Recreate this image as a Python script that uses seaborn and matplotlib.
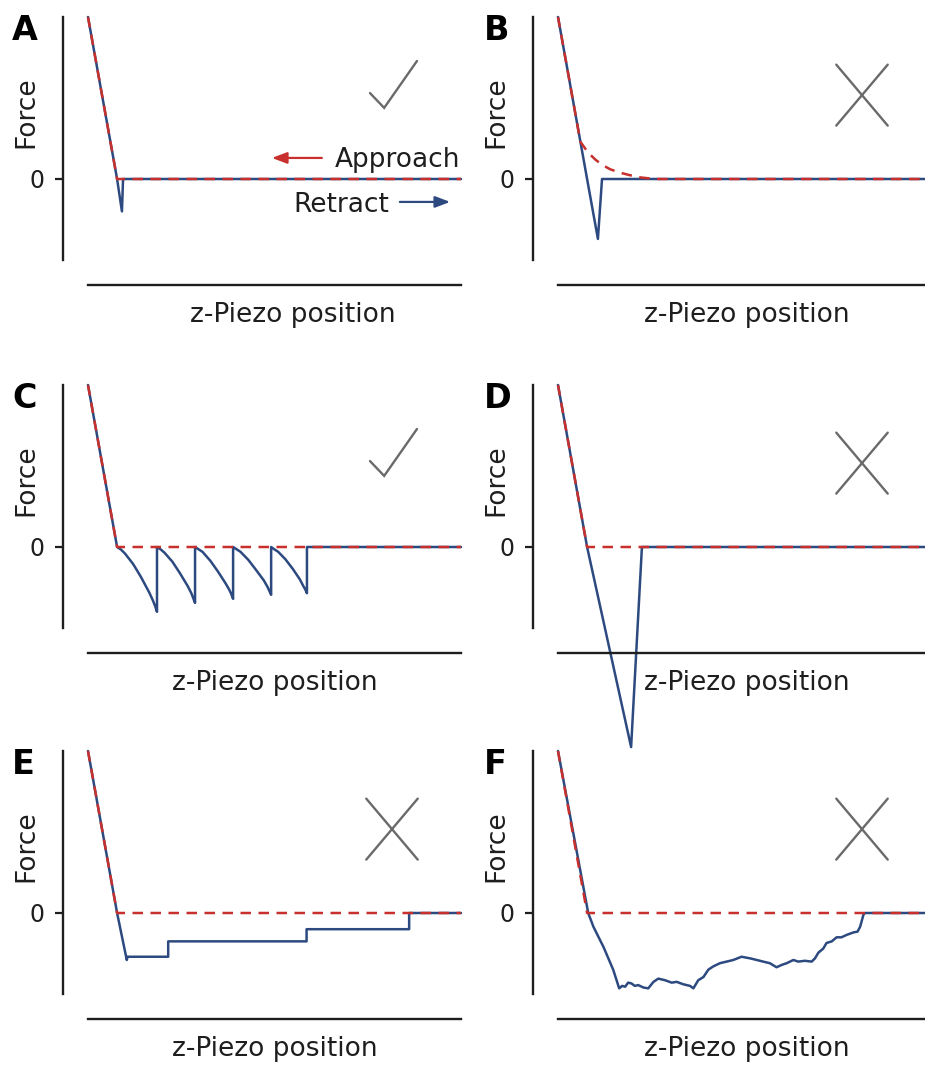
import matplotlib
matplotlib.use("Agg")
import matplotlib.pyplot as plt
import seaborn as sns

# ---- curves (x: z-piezo position in % of travel, y: force in arbitrary units) ----
# approach curve shared by panels A, C, D, E, F
approach_x = [0.0, 7.8, 100.0]
approach_y = [2.0, 0.0, 0.0]

# B: approach with long-range repulsion before contact
approach_b_x = [0.0, 6.0, 8.0, 10.0, 12.0, 14.0, 16.5, 19.0, 22.0, 26.0, 100.0]
approach_b_y = [2.0, 0.46, 0.33, 0.24, 0.17, 0.12, 0.08, 0.05, 0.02, 0.0, 0.0]

# A: clean single adhesion
retract_a_x = [0.0, 7.8, 9.1, 9.4, 100.0]
retract_a_y = [2.0, 0.0, -0.40, 0.0, 0.0]

# B: large non-specific adhesion
retract_b_x = [0.0, 7.8, 10.7, 11.8, 100.0]
retract_b_y = [2.0, 0.0, -0.74, 0.0, 0.0]

# C: sawtooth unfolding pattern
retract_c_x = [0.0, 7.8,
               8.8, 9.9, 12.1, 14.2, 16.4, 17.4, 18.0, 18.5, 18.5,
               19.5, 20.5, 22.6, 24.6, 26.7, 27.7, 28.2, 28.7, 28.7,
               29.7, 30.7, 32.8, 34.8, 36.9, 37.9, 38.4, 38.9, 38.9,
               39.9, 40.9, 43.0, 45.0, 47.1, 48.1, 48.6, 49.1, 49.1,
               50.0, 51.0, 52.9, 54.9, 56.8, 57.7, 58.2, 58.7, 58.7,
               100.0]
retract_c_y = [2.0, 0.0,
               -0.03, -0.08, -0.21, -0.37, -0.56, -0.66, -0.73, -0.80, 0.0,
               -0.03, -0.07, -0.18, -0.32, -0.48, -0.57, -0.63, -0.69, 0.0,
               -0.03, -0.06, -0.17, -0.30, -0.45, -0.53, -0.58, -0.64, 0.0,
               -0.03, -0.06, -0.16, -0.28, -0.41, -0.49, -0.54, -0.59, 0.0,
               -0.03, -0.06, -0.15, -0.27, -0.40, -0.48, -0.52, -0.57, 0.0,
               0.0]

# D: very strong adhesion
retract_d_x = [0.0, 7.8, 19.6, 22.5, 100.0]
retract_d_y = [2.0, 0.0, -2.47, 0.0, 0.0]

# E: stepwise detachment
retract_e_x = [0.0, 7.8, 10.4, 10.6, 21.5, 21.5, 58.6, 58.6, 86.1, 86.1, 100.0]
retract_e_y = [2.0, 0.0, -0.58, -0.54, -0.54, -0.35, -0.35, -0.20, -0.20, 0.0, 0.0]

# F: irregular long-range adhesion
retract_f_x = [0.0, 8.1, 9.5, 12.2, 14.8, 16.4, 17.2, 18.0, 18.8, 19.7, 20.6, 21.5,
               22.9, 24.2, 25.6, 26.9, 28.7, 30.5, 31.8, 33.6, 35.4, 36.3, 37.6,
               39.0, 40.3, 41.6, 43.4, 45.2, 47.0, 49.2, 51.5, 53.3, 55.0, 56.8,
               58.6, 60.0, 61.3, 63.1, 64.4, 66.2, 68.0, 68.9, 69.8, 71.1, 72.0,
               73.4, 74.7, 76.0, 77.4, 79.2, 80.3, 81.0, 81.9, 82.3, 100.0]
retract_f_y = [2.0, 0.0, -0.17, -0.42, -0.70, -0.93, -0.90, -0.91, -0.86, -0.87, -0.90, -0.89,
               -0.92, -0.93, -0.85, -0.81, -0.83, -0.86, -0.85, -0.88, -0.90, -0.93, -0.83,
               -0.79, -0.70, -0.66, -0.62, -0.60, -0.58, -0.54, -0.56, -0.58, -0.60, -0.62,
               -0.67, -0.64, -0.62, -0.58, -0.60, -0.59, -0.60, -0.56, -0.49, -0.44, -0.37,
               -0.35, -0.30, -0.30, -0.27, -0.24, -0.23, -0.17, -0.02, 0.0, 0.0]

panel_letters = ["A", "B", "C", "D", "E", "F"]
verdicts = ["ok", "bad", "ok", "bad", "bad", "bad"]
approach_curves = [(approach_x, approach_y), (approach_b_x, approach_b_y),
                   (approach_x, approach_y), (approach_x, approach_y),
                   (approach_x, approach_y), (approach_x, approach_y)]
retract_curves = [(retract_a_x, retract_a_y), (retract_b_x, retract_b_y),
                  (retract_c_x, retract_c_y), (retract_d_x, retract_d_y),
                  (retract_e_x, retract_e_y), (retract_f_x, retract_f_y)]

RED = "#c8302e"
BLUE = "#2d4a80"
GREY = "#6a6a6a"
INK = "#1e1e1e"

sns.set_style("ticks")
plt.rcParams["font.family"] = ["DejaVu Sans"]

W, H = 925, 1068
fig = plt.figure(figsize=(W / 100, H / 100), dpi=100)

col_left = [88, 558]
ax_w = 373
row_tops = [17, 385, 751]
ax_h = 243

for i, letter in enumerate(panel_letters):
    r, c = divmod(i, 2)
    left = col_left[c] / W
    bottom = (H - row_tops[r] - ax_h) / H
    ax = fig.add_axes([left, bottom, ax_w / W, ax_h / H])

    rx, ry = retract_curves[i]
    axx, axy = approach_curves[i]
    sns.lineplot(x=rx, y=ry, sort=False, estimator=None, color=BLUE,
                 linewidth=1.8, clip_on=False, ax=ax)
    sns.lineplot(x=axx, y=axy, sort=False, estimator=None, color=RED,
                 linewidth=1.8, linestyle=(0, (4.2, 3.0)), clip_on=False, ax=ax)

    ax.set_xlim(0, 100)
    ax.set_ylim(-1, 2)
    ax.set_xticks([])
    ax.set_yticks([0])
    ax.set_yticklabels(["0"])
    ax.tick_params(axis="y", length=6, width=1.6, pad=7, labelsize=17,
                   color=INK, labelcolor=INK)
    sns.despine(ax=ax, offset=18)
    for side in ("left", "bottom"):
        ax.spines[side].set_linewidth(1.7)
        ax.spines[side].set_color(INK)

    ax.set_xlabel("z-Piezo position", fontsize=19, color=INK)
    ax.set_ylabel("Force", fontsize=19, color=INK)
    label_x = 0.549 if letter == "A" else (0.5 if c == 0 else 0.507)
    ax.xaxis.set_label_coords(label_x, -0.173)
    ax.yaxis.set_label_coords(-0.13, 0.61)

    ax.text(-0.203 if c == 0 else -0.198, 0.905, letter, transform=ax.transAxes,
            fontsize=24, fontweight="heavy", ha="left", va="baseline", color="black")

    # verdict glyph: tick or cross
    if verdicts[i] == "ok":
        ax.plot([0.756, 0.794, 0.882], [0.687, 0.626, 0.819], transform=ax.transAxes,
                color=GREY, lw=1.7, clip_on=False, solid_joinstyle="miter")
    else:
        ax.plot([0.746, 0.884], [0.804, 0.553], transform=ax.transAxes,
                color=GREY, lw=1.7, clip_on=False)
        ax.plot([0.746, 0.884], [0.553, 0.804], transform=ax.transAxes,
                color=GREY, lw=1.7, clip_on=False)

    if letter == "A":
        arrow = "-|>,head_length=0.45,head_width=0.17"
        ax.annotate("", xy=(0.493, 0.42), xytext=(0.627, 0.42),
                    xycoords="axes fraction",
                    arrowprops=dict(arrowstyle=arrow, color=RED, lw=1.6,
                                    mutation_scale=20, shrinkA=0, shrinkB=0))
        ax.text(0.662, 0.383, "Approach", transform=ax.transAxes, fontsize=19,
                ha="left", va="baseline", color=INK)
        ax.text(0.550, 0.198, "Retract", transform=ax.transAxes, fontsize=19,
                ha="left", va="baseline", color=INK)
        ax.annotate("", xy=(0.971, 0.239), xytext=(0.836, 0.239),
                    xycoords="axes fraction",
                    arrowprops=dict(arrowstyle=arrow, color=BLUE, lw=1.6,
                                    mutation_scale=20, shrinkA=0, shrinkB=0))

fig.savefig("out.png", dpi=100)
